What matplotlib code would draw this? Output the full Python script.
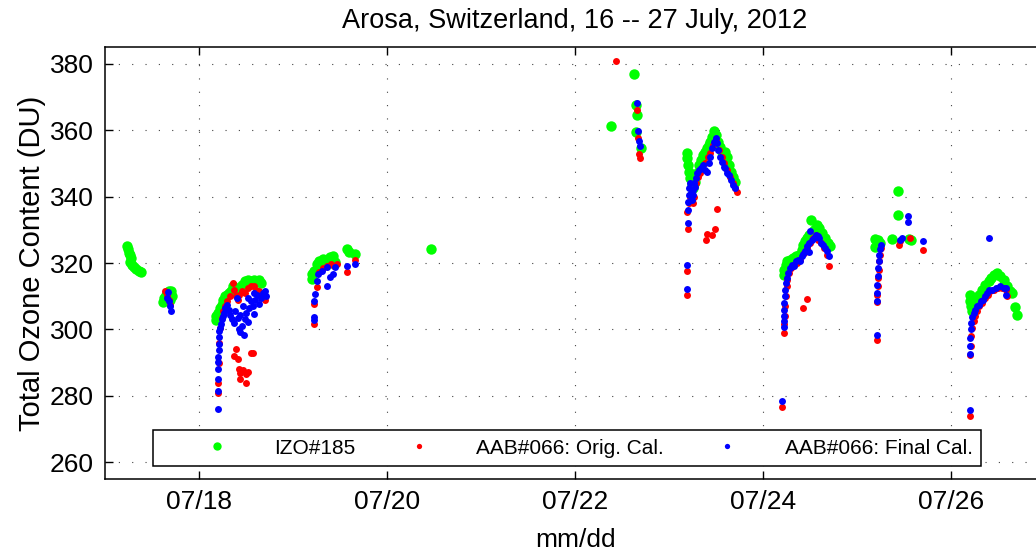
import matplotlib.pyplot as plt

plt.rcParams['font.family'] = ['Liberation Sans', 'DejaVu Sans']

# day of July 2012 (fractional) and total ozone (DU)
izo_day = [17.23, 17.24, 17.25, 17.27, 17.28, 17.27, 17.29, 17.31, 17.33, 17.36, 17.38,
           17.62, 17.63, 17.65, 17.68, 17.70, 17.71, 17.69,
           18.18, 18.18, 18.20, 18.22, 18.24, 18.26, 18.28, 18.30, 18.32, 18.34, 18.36,
           18.38, 18.40, 18.43, 18.46, 18.49, 18.52, 18.55, 18.58, 18.61, 18.64, 18.66,
           19.20, 19.20, 19.22, 19.25, 19.28, 19.32, 19.35, 19.39, 19.43, 19.45, 19.41,
           19.57, 19.59, 19.66,
           20.47,
           22.38, 22.63, 22.65, 22.66, 22.65, 22.70,
           23.19, 23.19, 23.20, 23.21, 23.22, 23.24, 23.26, 23.28, 23.30, 23.32, 23.34,
           23.36, 23.38, 23.40, 23.42, 23.44, 23.46, 23.48, 23.50, 23.52, 23.54, 23.56,
           23.58, 23.60, 23.62, 23.64, 23.66, 23.68, 23.70,
           24.22, 24.22, 24.24, 24.26, 24.29, 24.32, 24.35, 24.38, 24.41, 24.43, 24.45,
           24.47, 24.49, 24.51, 24.54, 24.57, 24.60, 24.63, 24.66, 24.69, 24.71,
           25.19, 25.19, 25.21, 25.22, 25.24, 25.37, 25.44, 25.44, 25.55, 25.57,
           26.20, 26.20, 26.21, 26.22, 26.24, 26.27, 26.30, 26.33, 26.36, 26.40, 26.43,
           26.46, 26.49, 26.52, 26.56, 26.60, 26.63, 26.65, 26.68, 26.70]
izo_o3 = [325.0, 324.2, 323.0, 322.3, 321.5, 320.2, 319.5, 318.8, 318.3, 317.6, 317.2,
          308.2, 309.5, 310.5, 311.5, 311.7, 310.2, 309.0,
          304.0, 302.8, 305.0, 306.5, 307.5, 309.0, 310.0, 310.5, 311.0, 311.5, 313.0,
          312.0, 311.5, 312.5, 313.5, 314.5, 315.0, 314.5, 315.0, 314.5, 315.0, 314.0,
          316.7, 315.2, 317.5, 319.7, 320.5, 321.2, 321.0, 321.7, 322.2, 320.2, 320.0,
          324.2, 323.2, 322.7,
          324.3,
          361.3, 376.8, 367.6, 364.5, 359.5, 354.5,
          353.0, 351.5, 349.5, 347.5, 345.5, 343.5, 342.5, 344.5, 347.0, 349.5, 351.0,
          352.5, 353.5, 354.5, 355.5, 356.5, 358.0, 359.7, 358.5, 356.5, 355.0, 353.5,
          352.5, 353.5, 352.0, 349.5, 347.5, 346.0, 344.5,
          316.5, 318.0, 319.5, 320.5, 321.0, 321.5, 322.0, 322.5, 324.0, 325.5, 326.5,
          327.5, 328.5, 333.0, 330.0, 331.5, 330.5, 329.0, 327.5, 326.0, 325.0,
          327.3, 324.8, 325.5, 327.0, 326.0, 327.3, 341.7, 334.4, 327.3, 327.0,
          310.3, 308.5, 307.0, 305.5, 308.8, 309.5, 310.5, 312.0, 313.3, 314.5, 315.5,
          316.5, 316.9, 316.0, 314.8, 313.0, 311.5, 310.9, 306.7, 304.3]

orig_day = [17.64, 17.66, 17.68, 17.69,
            18.20, 18.20, 18.21, 18.21, 18.22, 18.24, 18.26, 18.28, 18.30, 18.33, 18.36,
            18.37, 18.39, 18.41, 18.43, 18.46, 18.49, 18.52, 18.55, 18.58, 18.61, 18.64,
            18.67, 18.70,
            18.39, 18.37, 18.41, 18.42, 18.44, 18.47, 18.50, 18.52, 18.44, 18.50, 18.55, 18.57,
            19.22, 19.22, 19.25, 19.28, 19.32, 19.36, 19.40, 19.44, 19.47, 19.57, 19.66,
            22.44, 22.66, 22.67, 22.68, 22.69,
            23.19, 23.19, 23.20, 23.19, 23.21, 23.22, 23.23, 23.25, 23.27, 23.29, 23.31,
            23.33, 23.35, 23.38, 23.41, 23.44, 23.47, 23.50, 23.53, 23.56, 23.59, 23.62,
            23.65, 23.68, 23.70, 23.72, 23.39, 23.40, 23.46, 23.49, 23.51,
            24.20, 24.22, 24.22, 24.23, 24.23, 24.24, 24.25, 24.26, 24.28, 24.30, 24.33,
            24.36, 24.39, 24.43, 24.47, 24.44, 24.47, 24.50, 24.53, 24.56, 24.59, 24.62,
            24.65, 24.68, 24.70,
            25.21, 25.21, 25.21, 25.22, 25.22, 25.23, 25.23, 25.24, 25.25, 25.45, 25.46,
            25.56, 25.70,
            26.20, 26.20, 26.21, 26.21, 26.22, 26.24, 26.26, 26.28, 26.30, 26.33, 26.36,
            26.39, 26.42, 26.46, 26.50, 26.54, 26.58, 26.60]
orig_o3 = [311.7, 310.5, 309.0, 307.5,
           281.0, 284.0, 290.0, 296.0, 300.5, 303.5, 305.5, 307.0, 308.5, 310.0, 314.0,
           312.0, 310.0, 309.0, 310.5, 311.5, 311.0, 312.5, 313.0, 313.0, 312.0, 311.5,
           310.5, 309.0,
           294.0, 292.0, 291.0, 288.2, 287.0, 287.7, 286.5, 287.2, 285.2, 284.0, 293.0, 293.0,
           301.7, 307.7, 312.7, 317.2, 318.5, 319.2, 319.7, 319.0, 319.7, 317.2, 320.9,
           380.8, 366.0, 357.5, 352.8, 351.6,
           310.3, 317.7, 330.2, 335.2, 338.0, 340.0, 339.0, 338.0, 340.0, 344.0, 346.0,
           347.0, 348.5, 350.0, 352.0, 353.0, 355.5, 357.0, 354.0, 352.0, 350.0, 348.0,
           346.0, 344.0, 342.5, 341.5, 326.9, 328.6, 328.4, 330.3, 336.3,
           276.8, 299.0, 301.5, 304.0, 307.0, 310.0, 313.0, 315.0, 317.0, 318.5, 319.5,
           320.0, 321.0, 306.4, 309.2, 323.0, 324.5, 326.0, 327.5, 328.5, 327.0, 326.0,
           324.5, 322.5, 319.2,
           296.9, 308.3, 310.5, 313.0, 315.5, 318.0, 320.5, 322.5, 324.5, 325.5, 326.5,
           327.5, 324.0,
           274.1, 292.3, 295.0, 298.0, 300.5, 302.5, 304.0, 305.5, 307.0, 308.0, 309.5,
           310.5, 311.5, 312.0, 312.5, 312.5, 312.0, 310.0]

final_day = [17.67, 17.66, 17.68, 17.69, 17.70,
             18.20, 18.20, 18.20, 18.20, 18.20, 18.20, 18.21, 18.21, 18.21, 18.21, 18.22,
             18.23, 18.24, 18.25, 18.27, 18.28, 18.30, 18.32, 18.33, 18.35, 18.37, 18.38,
             18.40, 18.41, 18.42, 18.44, 18.46, 18.48, 18.49, 18.50, 18.52, 18.53, 18.55,
             18.57, 18.58, 18.60, 18.62, 18.64, 18.66, 18.68, 18.70, 18.71, 18.44, 18.47,
             18.52, 18.58,
             19.22, 19.22, 19.22, 19.23, 19.25, 19.27, 19.31, 19.36, 19.39, 19.36, 19.43,
             19.45, 19.57, 19.66,
             22.66, 22.67, 22.68, 22.69,
             23.19, 23.19, 23.20, 23.20, 23.20, 23.21, 23.21, 23.22, 23.23, 23.24, 23.25,
             23.26, 23.27, 23.28, 23.29, 23.30, 23.32, 23.34, 23.36, 23.38, 23.40, 23.42,
             23.44, 23.46, 23.48, 23.50, 23.51, 23.52, 23.54, 23.56, 23.58, 23.60, 23.62,
             23.64, 23.66, 23.68, 23.70,
             24.20, 24.22, 24.22, 24.22, 24.22, 24.22, 24.23, 24.23, 24.24, 24.25, 24.27,
             24.29, 24.31, 24.33, 24.35, 24.37, 24.39, 24.41, 24.43, 24.45, 24.47, 24.49,
             24.50, 24.52, 24.54, 24.56, 24.58, 24.60, 24.62, 24.64, 24.66, 24.68, 24.70,
             24.49,
             25.21, 25.21, 25.21, 25.21, 25.22, 25.22, 25.23, 25.23, 25.24, 25.25, 25.46,
             25.48, 25.54, 25.54, 25.70,
             26.20, 26.20, 26.20, 26.20, 26.21, 26.21, 26.22, 26.24, 26.26, 26.28, 26.30,
             26.32, 26.34, 26.36, 26.38, 26.40, 26.40, 26.44, 26.48, 26.52, 26.56, 26.59,
             26.59]
final_o3 = [311.2, 309.5, 308.7, 307.2, 305.5,
            276.2, 281.4, 285.0, 288.2, 290.2, 291.7, 293.7, 295.7, 297.7, 299.5, 300.5,
            301.5, 303.0, 304.0, 305.0, 306.5, 307.5, 306.0, 304.5, 303.0, 302.0, 305.5,
            309.5, 303.5, 300.2, 299.2, 301.0, 298.2, 303.0, 305.0, 302.2, 306.5, 308.7,
            307.0, 304.7, 309.0, 310.5, 307.7, 309.5, 311.0, 311.7, 310.0, 304.5, 307.0,
            309.5, 311.0,
            303.7, 302.7, 308.7, 310.7, 314.7, 316.7, 317.7, 318.7, 315.7, 313.2, 316.7,
            318.7, 319.2, 319.7,
            368.0, 359.8, 356.7, 355.2,
            312.2, 319.5, 331.9, 336.0, 338.5, 340.5, 342.5, 344.0, 341.0, 339.0, 340.5,
            342.0, 344.0, 343.0, 345.5, 347.0, 348.0, 348.5, 349.5, 348.0, 347.5, 350.0,
            352.0, 354.5, 356.5, 357.5, 356.0, 354.0, 352.0, 350.5, 349.0, 348.5, 347.0,
            346.5, 345.0, 343.5, 342.5,
            278.5, 300.7, 302.5, 304.0, 306.0, 308.0, 310.0, 312.0, 314.0, 315.5, 317.0,
            318.5, 319.5, 319.0, 320.5, 321.0, 320.5, 322.0, 322.7, 323.5, 325.0, 326.0,
            329.7, 327.0, 327.5, 328.5, 328.0, 327.5, 326.0, 325.5, 324.5, 323.5, 322.2,
            323.4,
            298.4, 308.5, 311.0, 313.5, 316.0, 318.5, 320.5, 322.5, 324.3, 325.5, 326.9,
            327.5, 334.0, 332.4, 326.7,
            275.7, 292.5, 295.0, 297.5, 300.0, 302.0, 303.7, 305.0, 306.0, 307.0, 307.5,
            308.5, 309.0, 310.0, 311.0, 311.8, 327.6, 312.0, 312.5, 313.0, 312.5, 312.4,
            310.3]

tick_days = [18, 20, 22, 24, 26]
tick_labels = ['07/18', '07/20', '07/22', '07/24', '07/26']

fig = plt.figure(figsize=(10.36, 5.53), dpi=100)
ax = fig.add_axes([0.1014, 0.1338, 0.9073, 0.7812])

ax.plot(izo_day, izo_o3, 'o', color='#00ff00', ms=7.5, mec='none', label='IZO#185')
ax.plot(orig_day, orig_o3, 'o', color='#ff0000', ms=5, mec='none', label='AAB#066: Orig. Cal.')
ax.plot(final_day, final_o3, 'o', color='#0000ff', ms=5, mec='none', label='AAB#066: Final Cal.')

ax.set_xlim(17, 27)
ax.set_ylim(255, 385)
ax.set_xticks(tick_days)
ax.set_xticklabels(tick_labels)
ax.set_yticks(range(260, 381, 20))

ax.grid(True, color='#444444', linestyle=(0, (1, 11)), linewidth=0.8)
ax.tick_params(direction='in', length=6, width=1, top=True, right=True,
               labelsize=19, pad=8)
for s in ax.spines.values():
    s.set_linewidth(1.1)

ax.set_title('Arosa, Switzerland, 16 -- 27 July, 2012', fontsize=19.5, pad=14)
ax.set_xlabel('mm/dd', fontsize=19, labelpad=10)
ax.set_ylabel('Total Ozone Content (DU)', fontsize=21, labelpad=3)

leg = ax.legend(loc='lower left', bbox_to_anchor=(0.0511, 0.030), borderaxespad=0,
                ncol=3, fontsize=15, handlelength=5.3, handletextpad=0.1,
                columnspacing=0.4, borderpad=0.4, fancybox=False, framealpha=1,
                edgecolor='black')
leg.get_frame().set_linewidth(1.1)
for h, ms in zip(leg.legend_handles, [6, 3.8, 3.8]):
    h.set_markersize(ms)

fig.savefig('out.png', dpi=100)
